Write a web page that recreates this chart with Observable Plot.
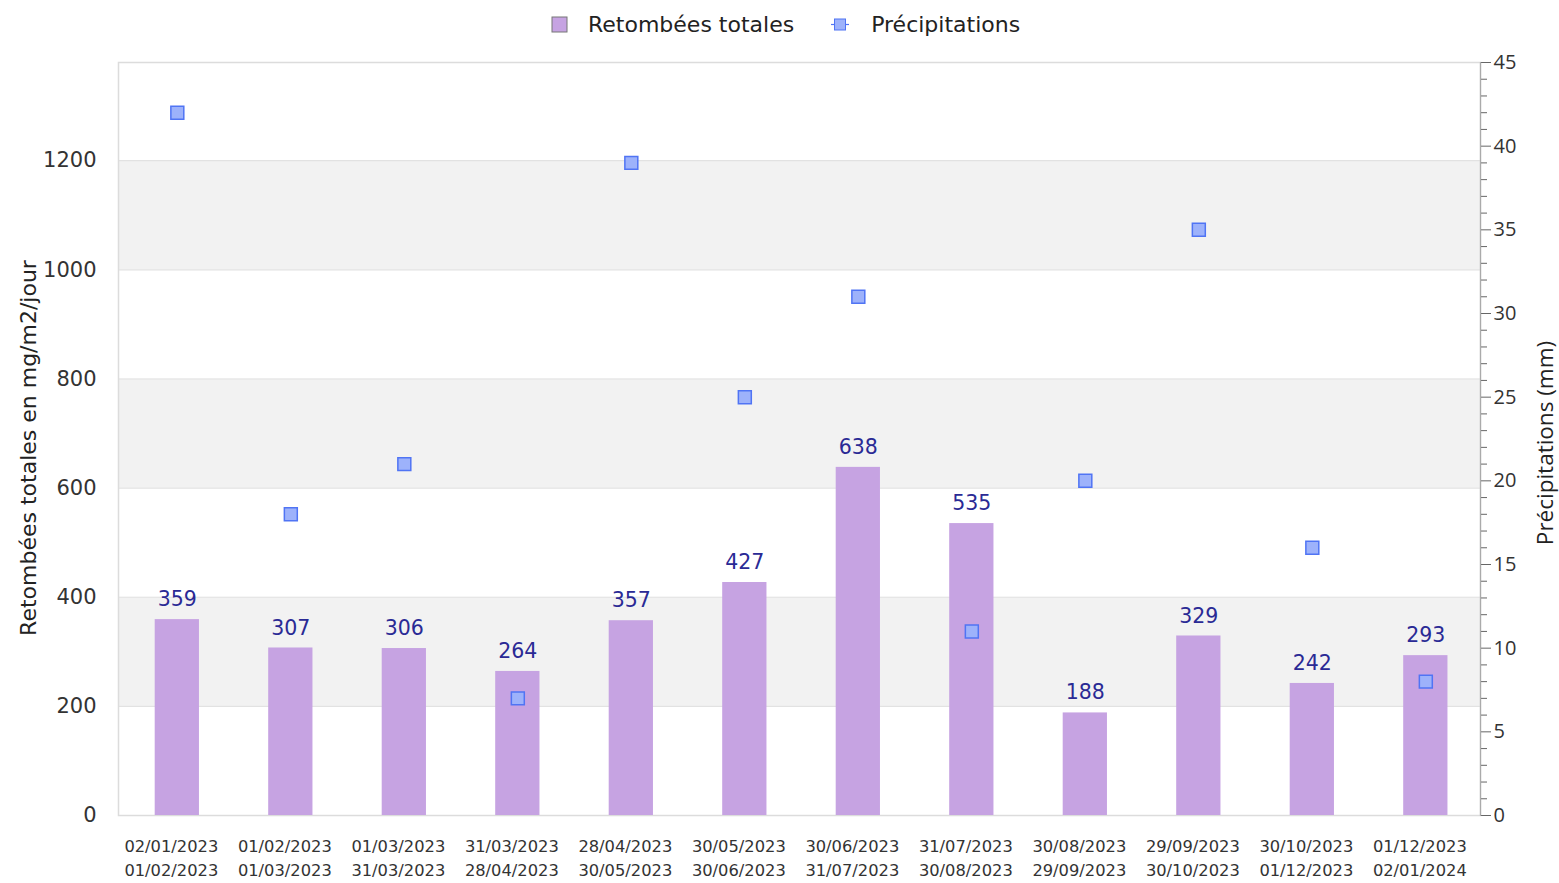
<!DOCTYPE html>
<html>
<head>
<meta charset="utf-8">
<script src="https://cdn.jsdelivr.net/npm/d3@7"></script>
<script src="https://cdn.jsdelivr.net/npm/@observablehq/plot@0.6"></script>
<style>
  html, body { margin: 0; padding: 0; background: #fff; }
  #wrap { position: relative; width: 1559px; height: 883px; overflow: hidden; }
  #chart { position: absolute; left: 0; top: 0; }
  #legend { position: absolute; top: 10px; left: 551px; height: 28px; display: flex; align-items: center;
            font-family: "DejaVu Sans", sans-serif; font-size: 22px; color: #222; white-space: nowrap; }
  #legend .item { display: flex; align-items: center; }
  #legend svg { display: block; }
</style>
</head>
<body>
<div id="wrap">
  <div id="chart"></div>
  <div id="legend"></div>
</div>
<script>
// ---- data ----
const periodStart = ["02/01/2023","01/02/2023","01/03/2023","31/03/2023","28/04/2023","30/05/2023",
                     "30/06/2023","31/07/2023","30/08/2023","29/09/2023","30/10/2023","01/12/2023"];
const periodEnd   = ["01/02/2023","01/03/2023","31/03/2023","28/04/2023","30/05/2023","30/06/2023",
                     "31/07/2023","30/08/2023","29/09/2023","30/10/2023","01/12/2023","02/01/2024"];
const retombees = [359, 307, 306, 264, 357, 427, 638, 535, 188, 329, 242, 293];
const precipitations = [42, 18, 21, 7, 39, 25, 31, 11, 20, 35, 16, 8];
const leftTicks = [0, 200, 400, 600, 800, 1000, 1200];
const rightTicks = [0, 5, 10, 15, 20, 25, 30, 35, 40, 45];
const rightMinorTicks = d3.range(0, 46, 1).filter(v => v % 5 !== 0);
const leftMax = 1380;
const rightMax = 45;
const shadedBands = [[200, 400], [600, 800], [1000, 1200]];
const legendLabels = ["Retombées totales", "Précipitations"];
const yLabelLeft = "Retombées totales en mg/m2/jour";
const yLabelRight = "Précipitations (mm)";

// ---- table ----
const periods = periodStart.map((s, i) => s + "\n" + periodEnd[i]);
const data = periods.map((p, i) => ({period: p, total: retombees[i], precip: precipitations[i]}));
const k = leftMax / rightMax; // map right axis onto the left scale

const barColor = "#c6a3e2";
const dotFill = "#9db2fb";
const dotStroke = "#5074f4";
const labelColor = "#2a2a95";

const chart = Plot.plot({
  width: 1559,
  height: 883,
  marginLeft: 118,
  marginRight: 79,
  marginTop: 62,
  marginBottom: 68,
  style: {background: "#fff", overflow: "visible"},
  x: {domain: periods, paddingInner: 0.61, paddingOuter: 0.305, align: 0.53, round: false, label: null},
  y: {domain: [0, leftMax], label: null},
  marks: [
    Plot.rectY(shadedBands, {y1: d => d[0], y2: d => d[1], fill: "#f2f2f2"}),
    Plot.ruleY(leftTicks.slice(1), {stroke: "#e2e2e2", strokeWidth: 1.2}),
    Plot.frame({stroke: "#dcdcdc", strokeWidth: 1.5}),
    Plot.barY(data, {x: "period", y: "total", fill: barColor}),
    Plot.text(data, {x: "period", y: "total", text: d => String(d.total), dy: -20,
      fill: labelColor, fontSize: 20.5, fontFamily: "DejaVu Sans"}),
    Plot.dot(data, {x: "period", y: d => d.precip * k, symbol: "square", r: 7.3,
      fill: dotFill, stroke: dotStroke, strokeWidth: 1.5}),
    // left axis
    Plot.axisY(leftTicks, {anchor: "left", tickSize: 0, tickPadding: 22, fontSize: 21,
      fontFamily: "DejaVu Sans", fill: "#333", tickFormat: d => String(d), label: null}),
    // right axis (minor ticks)
    Plot.axisY(rightMinorTicks.map(v => v * k), {anchor: "right", tickSize: 6, tickFormat: () => "",
      stroke: "#666", label: null}),
    // right axis (major ticks)
    Plot.axisY(rightTicks.map(v => v * k), {anchor: "right", tickSize: 10, tickPadding: 3,
      tickFormat: v => String(Math.round(v / k)), fontSize: 20, fontFamily: "Open Sans",
      fill: "#333", stroke: "#666", label: null}),
    Plot.frame({anchor: "right", stroke: "#aaa", strokeWidth: 1.2}),
    // x axis
    Plot.axisX({anchor: "bottom", tickSize: 0, tickPadding: 19, fontSize: 16.3,
      fontFamily: "DejaVu Sans", fill: "#333", lineHeight: 1.5, dx: -6, label: null}),
    // axis titles
    Plot.text([yLabelLeft], {frameAnchor: "left", textAnchor: "middle", dx: -90, dy: 9, rotate: -90,
      fontSize: 22, fontFamily: "DejaVu Sans", fill: "#222"}),
    Plot.text([yLabelRight], {frameAnchor: "right", textAnchor: "middle", dx: 65, dy: 4, rotate: -90,
      fontSize: 22.5, fontFamily: "Open Sans", fill: "#222"})
  ]
});
document.getElementById("chart").appendChild(chart);

// ---- legend ----
const legend = d3.select("#legend");
const it1 = legend.append("div").attr("class", "item");
it1.append("svg").attr("width", 17).attr("height", 17)
  .append("rect").attr("x", 1).attr("y", 1).attr("width", 15).attr("height", 15)
  .attr("fill", barColor).attr("stroke", "#777").attr("stroke-width", 1);
it1.append("span").style("margin-left", "20px").text(legendLabels[0]);
const it2 = legend.append("div").attr("class", "item").style("margin-left", "37px");
const s2 = it2.append("svg").attr("width", 18).attr("height", 17);
s2.append("line").attr("x1", 0).attr("x2", 18).attr("y1", 8.5).attr("y2", 8.5)
  .attr("stroke", dotStroke).attr("stroke-width", 1.2);
s2.append("rect").attr("x", 3.5).attr("y", 3).attr("width", 11).attr("height", 11)
  .attr("fill", dotFill).attr("stroke", dotStroke).attr("stroke-width", 1);
it2.append("span").style("margin-left", "22px").text(legendLabels[1]);
</script>
</body>
</html>
